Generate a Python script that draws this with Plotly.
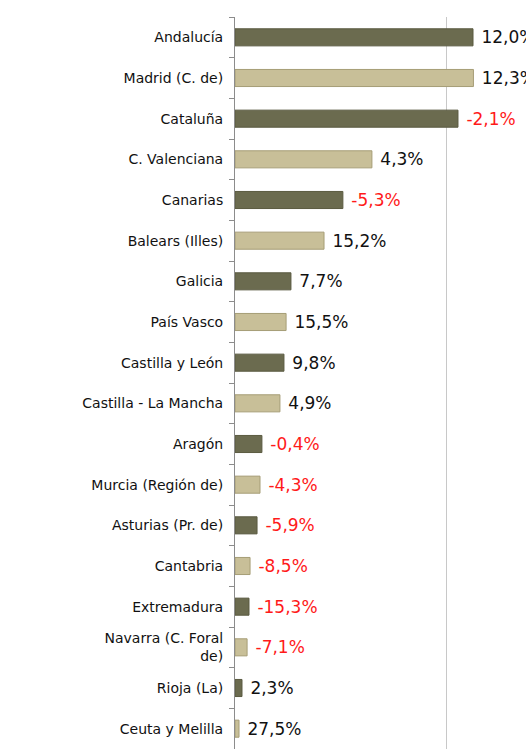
import plotly.graph_objects as go

regions = [
    "Andalucía", "Madrid (C. de)", "Cataluña", "C. Valenciana", "Canarias",
    "Balears (Illes)", "Galicia", "País Vasco", "Castilla y León",
    "Castilla - La Mancha", "Aragón", "Murcia (Región de)", "Asturias (Pr. de)",
    "Cantabria", "Extremadura", "Navarra (C. Foral<br>de)", "Rioja (La)",
    "Ceuta y Melilla",
]
values = [1123, 1125, 1052, 646, 509, 420, 264, 241, 231, 212,
          127, 118, 104, 71, 66, 57, 33, 19]
changes = [12.0, 12.3, -2.1, 4.3, -5.3, 15.2, 7.7, 15.5, 9.8, 4.9,
           -0.4, -4.3, -5.9, -8.5, -15.3, -7.1, 2.3, 27.5]

DARK = "#6b6b4f"
LIGHT = "#c8bf98"

labels = [" " + f"{c:.1f}".replace(".", ",") + "%" for c in changes]
fills = [DARK if i % 2 == 0 else LIGHT for i in range(len(regions))]
lines = ["#5a5a40" if i % 2 == 0 else "#a69d76" for i in range(len(regions))]
text_cols = ["#ff1a1a" if c < 0 else "#111111" for c in changes]

fig = go.Figure(go.Bar(
    x=values,
    y=regions,
    orientation="h",
    marker=dict(color=fills, line=dict(color=lines, width=1)),
    text=labels,
    textposition="outside",
    constraintext="none",
    textfont=dict(family="DejaVu Sans", size=17, color=text_cols),
    cliponaxis=True,
    width=0.42,
))

fig.update_layout(
    width=526,
    height=749,
    margin=dict(l=235, r=0, t=17, b=0),
    paper_bgcolor="white",
    plot_bgcolor="white",
    showlegend=False,
    font=dict(family="DejaVu Sans", size=14, color="#111111"),
    xaxis=dict(
        range=[0, 1373],
        dtick=1000,
        showgrid=True,
        gridcolor="#c8c8c8",
        gridwidth=1,
        zeroline=False,
        showticklabels=False,
        showline=False,
    ),
    yaxis=dict(
        autorange=False,
        range=[17.5, -0.5],
        type="category",
        showline=True,
        linecolor="#8c8c8c",
        linewidth=1,
        ticks="outside",
        tickson="boundaries",
        ticklen=5,
        tickcolor="#8c8c8c",
        ticklabelstandoff=8,
        showgrid=False,
    ),
)

# page body has a default 8px margin; drop it so the figure fills the window
fig.write_html(
    "out.html",
    config={"displayModeBar": False},
    post_script="document.body.style.margin='0';document.body.style.overflow='hidden';",
)
